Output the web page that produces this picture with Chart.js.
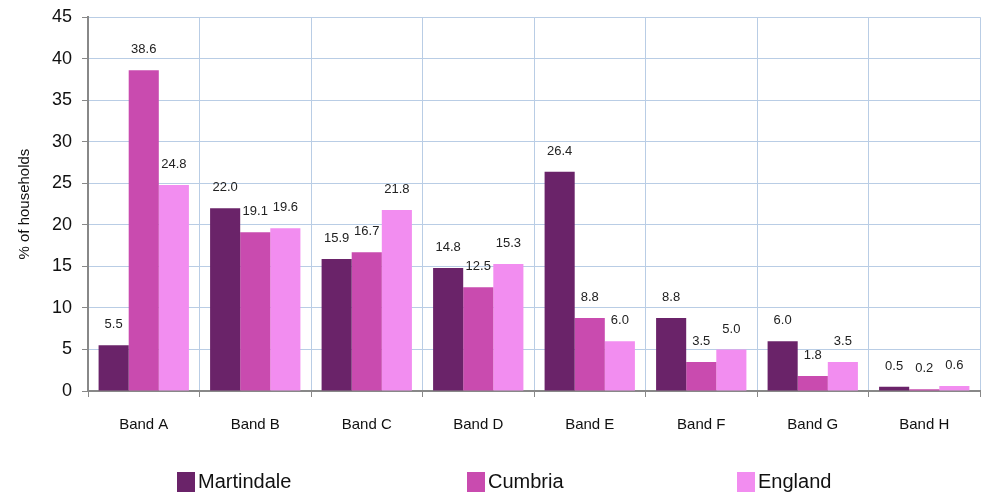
<!DOCTYPE html>
<html>
<head>
<meta charset="utf-8">
<script src="https://cdn.jsdelivr.net/npm/chart.js@4/dist/chart.umd.min.js"></script>
<style>
  html, body { margin: 0; padding: 0; background: #fff; }
  #wrap { position: relative; width: 984px; height: 496px; }
  #legend {
    position: absolute; left: 0; top: 470px; width: 984px; height: 26px;
    font-family: "Liberation Sans", Arial, sans-serif; font-size: 20px; color: #111;
  }
  .item { position: absolute; top: 0; display: flex; align-items: center; }
  .box { width: 18px; height: 20px; margin-right: 3px; }
</style>
</head>
<body>
<div id="wrap">
  <canvas id="chart" width="984" height="496"></canvas>
  <div id="legend"></div>
</div>
<script>
const bands = ["Band A", "Band B", "Band C", "Band D", "Band E", "Band F", "Band G", "Band H"];
const martindale = [5.5, 22.0, 15.9, 14.8, 26.4, 8.8, 6.0, 0.5];
const cumbria = [38.6, 19.1, 16.7, 12.5, 8.8, 3.5, 1.8, 0.2];
const england = [24.8, 19.6, 21.8, 15.3, 6.0, 5.0, 3.5, 0.6];
const seriesNames = ["Martindale", "Cumbria", "England"];
const seriesColors = ["#6a2369", "#c94baf", "#f28df0"];
const legendX = [177, 467, 737];

const FONT = "'Liberation Sans', Arial, sans-serif";

// labels above each bar
const barLabels = {
  id: "barLabels",
  afterDatasetsDraw(c) {
    const ctx = c.ctx;
    ctx.save();
    ctx.font = "13px " + FONT;
    ctx.fillStyle = "#222";
    ctx.textAlign = "center";
    ctx.textBaseline = "bottom";
    c.data.datasets.forEach((ds, i) => {
      c.getDatasetMeta(i).data.forEach((bar, j) => {
        ctx.fillText(ds.data[j].toFixed(1), bar.x, bar.y - 14);
      });
    });
    ctx.restore();
  }
};

const allSeries = [martindale, cumbria, england];

new Chart(document.getElementById("chart"), {
  type: "bar",
  data: {
    labels: bands,
    datasets: allSeries.map((d, i) => ({
      label: seriesNames[i],
      data: d,
      backgroundColor: seriesColors[i],
      borderWidth: 0,
      barPercentage: 1,
      categoryPercentage: 0.81
    }))
  },
  options: {
    responsive: false,
    animation: false,
    layout: { padding: { top: 15, right: 4, bottom: 55, left: 12 } },
    plugins: {
      legend: { display: false },
      tooltip: { enabled: false }
    },
    scales: {
      x: {
        grid: { offset: true, color: "#b9cde5", tickColor: "#888", tickLength: 6, lineWidth: 1 },
        border: { color: "#888", width: 2 },
        ticks: { color: "#111", font: { family: FONT, size: 15 }, padding: 19 },
        afterFit(s) { s.height = 50; }
      },
      y: {
        min: 0,
        max: 45,
        ticks: { stepSize: 5, color: "#111", font: { family: FONT, size: 18, lineHeight: 0.8 }, padding: 10 },
        grid: { color: "#b9cde5", tickColor: "#888", tickLength: 6 },
        border: { color: "#888", width: 2 },
        title: { display: true, text: "% of households", color: "#111", font: { family: FONT, size: 15 }, padding: 4 },
        afterFit(s) { s.width = 76; }
      }
    }
  },
  plugins: [barLabels]
});

const legend = document.getElementById("legend");
seriesNames.forEach((name, i) => {
  const item = document.createElement("div");
  item.className = "item";
  item.style.left = legendX[i] + "px";
  item.innerHTML = '<span class="box" style="background:' + seriesColors[i] + '"></span><span>' + name + '</span>';
  legend.appendChild(item);
});
</script>
</body>
</html>
